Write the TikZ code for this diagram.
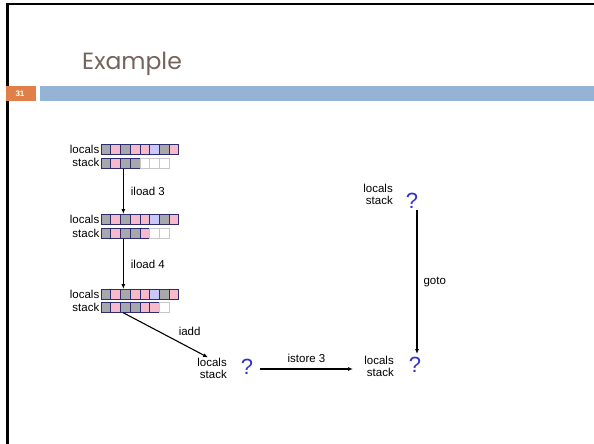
\documentclass[tikz,border=0pt]{standalone}
\usepackage{fontspec}
\setmainfont{Liberation Sans}
\newfontfamily\titlefont{Poppins}
\usetikzlibrary{arrows.meta,calc}
\definecolor{cgrey}{RGB}{168,168,172}
\definecolor{cpink}{RGB}{246,186,202}
\definecolor{cblue}{RGB}{200,200,250}
\definecolor{cnavy}{RGB}{45,45,110}
\definecolor{clight}{RGB}{200,200,200}
\definecolor{qblue}{RGB}{51,51,204}
\definecolor{barblue}{RGB}{149,179,211}
\definecolor{barorange}{RGB}{224,128,72}
\definecolor{titlecol}{RGB}{118,99,91}
\tikzset{
  cell/.style={rectangle,minimum width=9.7pt,minimum height=10pt,inner sep=0pt,line width=0.8pt,anchor=north west},
  cg/.style={cell,fill=cgrey,draw=cnavy},
  cp/.style={cell,fill=cpink,draw=cnavy},
  cb/.style={cell,fill=cblue,draw=cnavy},
  cw/.style={cell,fill=white,draw=clight},
  lab/.style={font=\fontsize{11.5}{13}\selectfont,inner sep=0pt},
  qm/.style={font=\fontsize{22}{24}\selectfont,text=qblue,inner sep=0pt},
  arr/.style={-{Latex[length=5pt,width=4pt]},line width=1.1pt},
}
\begin{document}
\begin{tikzpicture}[x=1pt,y=-1pt]
\useasboundingbox (0,0) rectangle (594,444);
% frame
\draw[line width=2.5pt] (6,4) -- (594,4);
\draw[line width=2.5pt] (7.5,3) -- (7.5,444);
% title
\node[anchor=base west,inner sep=0pt,font=\titlefont\fontsize{23.5}{26}\selectfont,text=titlecol] (title) at (82,70) {Example};
\fill[barorange] (6,86) rectangle (36,101);
\node[font=\bfseries\fontsize{8}{9}\selectfont,text=white] (num) at (20,93.5) {31};
\fill[barblue] (40,86) rectangle (594,101);
% rows
\foreach \r/\ly/\sy/\st in {1/144/157.7/{g,p,g,g,w,w,w},2/214/228/{g,p,g,g,p,w,w},3/289/302/{g,p,g,g,p,p,w}}{
  \foreach \c [count=\i] in {g,p,g,p,p,b,g,p}
    \node[c\c] (L\r-\i) at (100.7+\i*9.7-9.7,\ly) {};
  \foreach \c [count=\i] in \st
    \node[c\c] (S\r-\i) at (100.7+\i*9.7-9.7,\sy) {};
  \node[lab,anchor=east] (ll\r) at (99.5,\ly+5) {locals};
  \node[lab,anchor=east] (sl\r) at (99.5,\sy+5) {stack};
}
% lower left state
\node[lab,anchor=base east] (bll) at (227,366) {locals};
\node[lab,anchor=base east] (bls) at (227,378) {stack};
\node[qm] (blq) at (247,367) {?};
% lower right state
\node[lab,anchor=base east] (brl) at (394,364) {locals};
\node[lab,anchor=base east] (brs) at (394,376) {stack};
\node[qm] (brq) at (415,365) {?};
% top right state
\node[lab,anchor=base east] (trl) at (393,192) {locals};
\node[lab,anchor=base east] (trs) at (393,204) {stack};
\node[qm] (trq) at (412,201) {?};
% connectors
\draw[arr] ([xshift=-2pt]S1-3.south) -- node[lab,anchor=west,xshift=7pt] (e1) {iload 3} ([xshift=-2pt]L2-3.north);
\draw[arr] ([xshift=-2pt]S2-3.south) -- node[lab,anchor=west,xshift=7pt] (e2) {iload 4} ([xshift=-2pt]L3-3.north);
\draw[arr] ([xshift=-2pt]S3-3.south) -- node[lab,pos=0.6,anchor=south west,xshift=4pt,yshift=3pt] (e3) {iadd} ([xshift=-4pt]bll.north);
\coordinate (iss) at (260,369);
\coordinate (ise) at (353,369);
\draw[arr] (iss) -- node[lab,anchor=south,yshift=6pt] (e4) {istore 3} (ise);
\coordinate (gs) at (417,210);
\coordinate (ge) at (417,354);
\draw[arr] (gs) -- node[lab,anchor=west,xshift=6pt] (e5) {goto} (ge);
\end{tikzpicture}
\end{document}
